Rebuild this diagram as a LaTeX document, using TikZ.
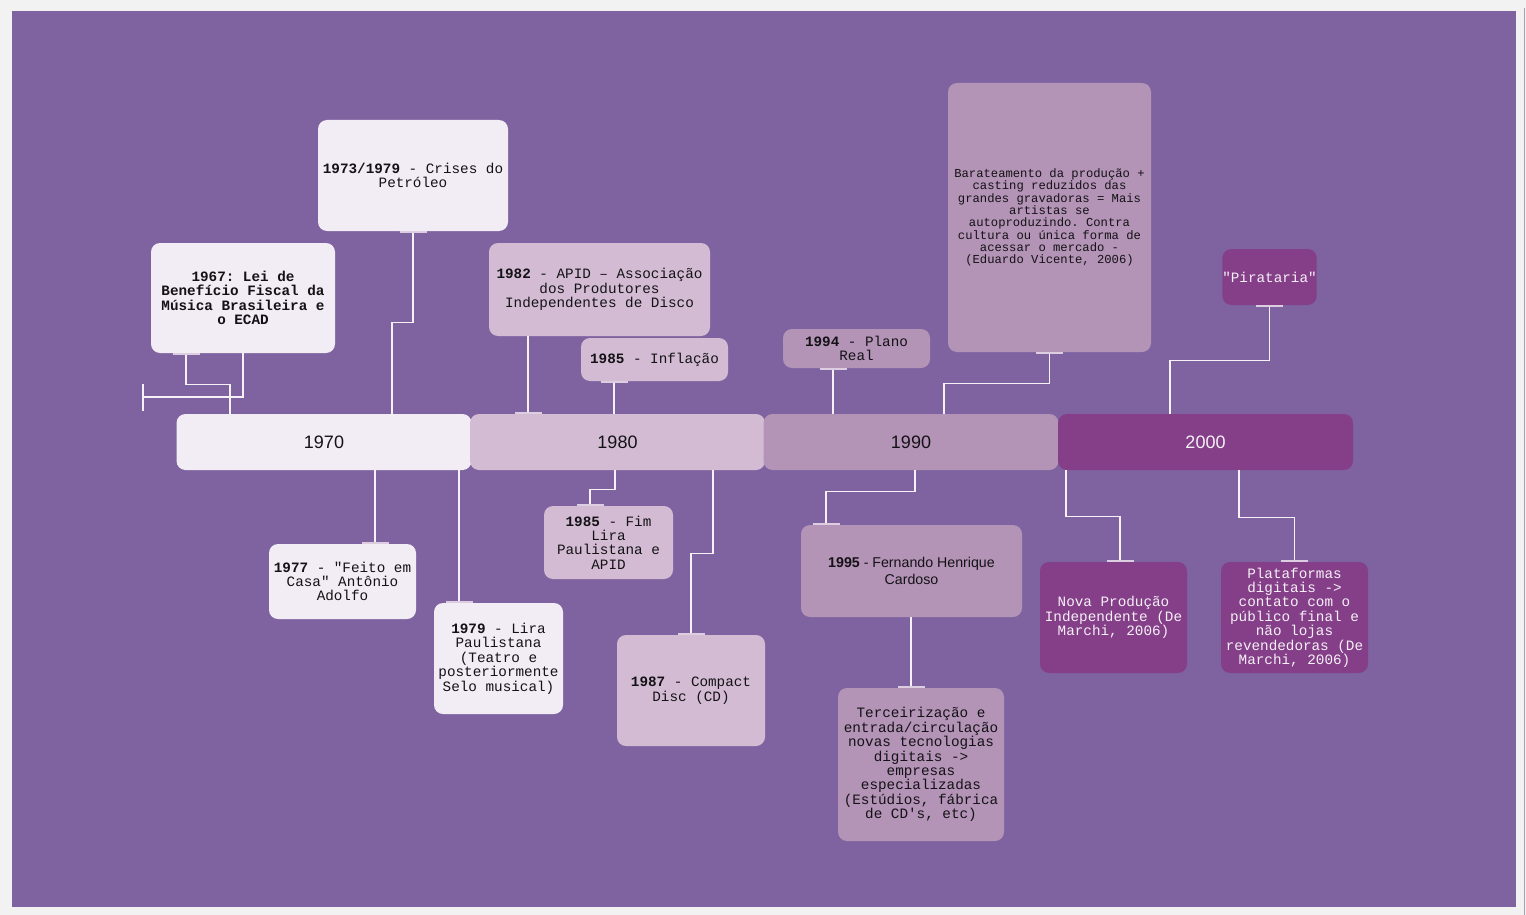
\documentclass[tikz,border=0pt]{standalone}
\usepackage{fontspec}
\setmainfont{Liberation Sans}
\setmonofont{Liberation Mono}
\usetikzlibrary{arrows.meta}
\definecolor{gris}{RGB}{242,242,242}
\definecolor{fondo}{RGB}{127,99,161}
\definecolor{borde}{RGB}{168,160,180}
\definecolor{c70}{RGB}{242,236,244}
\definecolor{c80}{RGB}{211,188,211}
\definecolor{c90}{RGB}{179,147,182}
\definecolor{c00}{RGB}{132,63,136}
\definecolor{linea}{RGB}{246,241,247}
\definecolor{stubc}{RGB}{220,205,224}
\definecolor{tinta}{RGB}{20,18,22}
\definecolor{claro}{RGB}{246,240,247}
\tikzset{
  caja/.style={rectangle, rounded corners=9pt, inner sep=0pt, align=center, text=tinta,
    font=\ttfamily\fontsize{14.3pt}{14.4pt}\selectfont},
  eje/.style={rectangle, rounded corners=9pt, minimum width=295pt, minimum height=56pt,
    inner sep=0pt, text=tinta, font=\fontsize{18pt}{20pt}\selectfont},
  enlace/.style={draw=linea, line width=1.3pt},
  tope/.tip={Bar[width=27pt,line width=2pt,color=stubc]},
  corte/.tip={Bar[width=27pt,line width=1.5pt,color=linea]}
}
\begin{document}
\begin{tikzpicture}[x=1pt,y=-1pt]
\useasboundingbox (0,0) rectangle (1526,915);
\fill[gris] (0,0) rectangle (1526,915);
\fill[fondo] (12,11) rectangle (1516,907);
\draw[borde,line width=1.5pt] (1524.5,8) -- (1524.5,915);
% linea de tiempo
\node[eje, fill=c70] (t70) at (324,442) {1970};
\node[eje, fill=c80] (t80) at (617.5,442) {1980};
\node[eje, fill=c90] (t90) at (911,442) {1990};
\node[eje, fill=c00, text=claro] (t00) at (1205.5,442) {2000};
% arriba
\node[caja, fill=c70, minimum width=184pt, minimum height=110pt] (y67) at (243,298)
  {\textbf{1967: Lei de}\\\textbf{Benefício Fiscal da}\\\textbf{Música Brasileira e}\\\textbf{o ECAD}};
\node[caja, fill=c70, minimum width=190pt, minimum height=111pt] (y73) at (413,175.5)
  {\textbf{1973/1979} - Crises do\\Petróleo};
\node[caja, fill=c80, minimum width=221pt, minimum height=93pt] (y82) at (599.5,289.5)
  {\textbf{1982} - APID – Associação\\dos Produtores\\Independentes de Disco};
\node[caja, fill=c80, minimum width=147pt, minimum height=43pt] (y85a) at (654.5,359.5)
  {\textbf{1985} - Inflação};
\node[caja, fill=c90, minimum width=147pt, minimum height=39pt] (y94) at (856.5,348.5)
  {\textbf{1994} - Plano\\Real};
\node[caja, fill=c90, minimum width=203pt, minimum height=269pt,
  font=\ttfamily\fontsize{12.2pt}{12.3pt}\selectfont] (bar) at (1049.5,217.5)
  {Barateamento da produção +\\casting reduzidos das\\grandes gravadoras = Mais\\artistas se\\autoproduzindo. Contra\\cultura ou única forma de\\acessar o mercado -\\(Eduardo Vicente, 2006)};
\node[caja, fill=c00, text=claro, minimum width=93pt, minimum height=56pt] (pir) at (1269.5,277)
  {"Pirataria"};
% abajo
\node[caja, fill=c70, minimum width=147pt, minimum height=75pt] (y77) at (342.5,581.5)
  {\textbf{1977} - "Feito em\\Casa" Antônio\\Adolfo};
\node[caja, fill=c70, minimum width=129pt, minimum height=111pt] (y79) at (498.5,658.5)
  {\textbf{1979} - Lira\\Paulistana\\(Teatro e\\posteriormente\\Selo musical)};
\node[caja, fill=c80, minimum width=129pt, minimum height=73pt] (y85b) at (608.5,542.5)
  {\textbf{1985} - Fim\\Lira\\Paulistana e\\APID};
\node[caja, fill=c80, minimum width=148pt, minimum height=111pt] (y87) at (691,690.5)
  {\textbf{1987} - Compact\\Disc (CD)};
\node[caja, fill=c90, minimum width=221pt, minimum height=92pt,
  font=\fontsize{14.2pt}{17pt}\selectfont] (y95) at (911.5,571)
  {\textbf{1995} - Fernando Henrique\\Cardoso};
\node[caja, fill=c90, minimum width=166pt, minimum height=153pt] (terc) at (921,764.5)
  {Terceirização e\\entrada/circulação\\novas tecnologias\\digitais ->\\empresas\\especializadas\\(Estúdios, fábrica\\de CD's, etc)};
\node[caja, fill=c00, text=claro, minimum width=147pt, minimum height=111pt] (nova) at (1113.5,617.5)
  {Nova Produção\\Independente (De\\Marchi, 2006)};
\node[caja, fill=c00, text=claro, minimum width=147pt, minimum height=111pt] (plat) at (1294.5,617.5)
  {Plataformas\\digitais ->\\contato com o\\público final e\\não lojas\\revendedoras (De\\Marchi, 2006)};
% enlaces de arriba
\coordinate (suelto) at (142,397);
\draw[enlace, tope-] ([xshift=-57pt]y67.south) -- ++(0,31) -| ([xshift=-94pt]t70.north);
\draw[enlace, -corte] (y67.south) -- (y67.south |- suelto) -- (suelto);
\draw[enlace, tope-] (y73.south) -- ++(0,91) -| ([xshift=68pt]t70.north);
\draw[enlace, -tope] ([xshift=-71.5pt]y82.south) -- ([xshift=-71.5pt]y82.south |- t80.north);
\draw[enlace, tope-] ([xshift=-40.5pt]y85a.south) -- ([xshift=-40.5pt]y85a.south |- t80.north);
\draw[enlace, tope-] ([xshift=-23.5pt]y94.south) -- ([xshift=-23.5pt]y94.south |- t90.north);
\draw[enlace, tope-] (bar.south) -- ++(0,31) -| ([xshift=33pt]t90.north);
\draw[enlace, tope-] (pir.south) -- ++(0,55) -| ([xshift=-35.5pt]t00.north);
% enlaces de abajo
\draw[enlace, -tope] ([xshift=51pt]t70.south) -- ([xshift=51pt]t70.south |- y77.north);
\draw[enlace, -tope] ([xshift=135pt]t70.south) -- ([xshift=135pt]t70.south |- y79.north);
\draw[enlace, -tope] ([xshift=-2.5pt]t80.south) -- ++(0,19) -| ([xshift=-18.5pt]y85b.north);
\draw[enlace, -tope] ([xshift=95.5pt]t80.south) -- ++(0,83) -| (y87.north);
\draw[enlace, -tope] ([xshift=4pt]t90.south) -- ++(0,21) -| ([xshift=-85.5pt]y95.north);
\draw[enlace, -tope] ([xshift=-0.5pt]y95.south) -- ([xshift=-0.5pt]y95.south |- terc.north);
\draw[enlace, -tope] ([xshift=-139.5pt]t00.south) -- ++(0,46) -| ([xshift=6.5pt]nova.north);
\draw[enlace, -tope] ([xshift=33.5pt]t00.south) -- ++(0,47) -| (plat.north);
\end{tikzpicture}
\end{document}
